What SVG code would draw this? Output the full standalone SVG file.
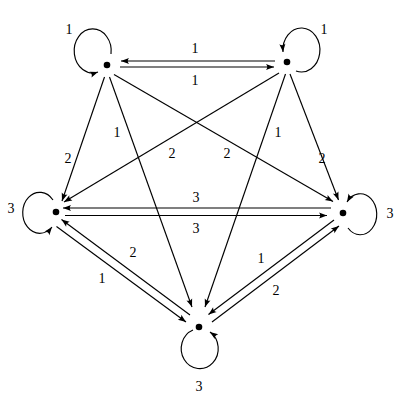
<svg xmlns="http://www.w3.org/2000/svg" width="400" height="400" viewBox="0 0 400 400">
<style>
.e{fill:none;stroke:#000;stroke-width:1.15;marker-end:url(#ah)}
.d{fill:#000}
.t{font-family:"Liberation Serif","DejaVu Serif",serif;font-size:14px;fill:#000;text-anchor:middle;dominant-baseline:central}
</style>
<defs>
<marker id="ah" viewBox="-9 -4 10 8" refX="0" refY="0" markerWidth="10" markerHeight="8" markerUnits="userSpaceOnUse" orient="auto">
<path d="M0,0 L-8,-3 Q-5.5,0 -8,3 Z" fill="#000"/>
</marker>
</defs>
<rect width="400" height="400" fill="#fff"/>
<g id="connectors">
<path class="e" d="M275,61 L121,61"/>
<path class="e" d="M120,67 L274,67"/>
<path class="e" d="M104.5,77 L62,201"/>
<path class="e" d="M109.5,77 L192,307"/>
<path class="e" d="M114,74.5 L333,201.5"/>
<path class="e" d="M279,73 L64,202"/>
<path class="e" d="M285.5,74 L205,307"/>
<path class="e" d="M290,74 L338.5,200"/>
<path class="e" d="M331,208 L63,208"/>
<path class="e" d="M65,215.5 L327,215.5"/>
<path class="e" d="M190,315 L61.5,219.5"/>
<path class="e" d="M56.5,226.5 L186,322"/>
<path class="e" d="M334,220 L208.5,314.5"/>
<path class="e" d="M212,322 L339,226"/>
<path class="e" d="M111,54 A18.5,22 0 1 0 98,72"/>
<path class="e" d="M296,71 A18.5,22 0 1 0 283,52"/>
<path class="e" d="M53,200 A17,20.5 0 1 0 52,227"/>
<path class="e" d="M348,228 A16.5,20.5 0 1 0 347,202"/>
<path class="e" d="M193,330 A18.5,20 0 1 0 210,332"/>
</g>
<g id="edge-labels">
<text class="t" x="195" y="48">1</text>
<text class="t" x="195" y="80">1</text>
<text class="t" x="68" y="158">2</text>
<text class="t" x="117" y="132">1</text>
<text class="t" x="172" y="153">2</text>
<text class="t" x="227" y="153">2</text>
<text class="t" x="278" y="132">1</text>
<text class="t" x="322" y="158">2</text>
<text class="t" x="196" y="197">3</text>
<text class="t" x="196" y="228">3</text>
<text class="t" x="133" y="252">2</text>
<text class="t" x="102" y="278">1</text>
<text class="t" x="261" y="258">1</text>
<text class="t" x="276" y="290">2</text>
</g>
<g id="nodeA"><circle class="d" cx="107" cy="65" r="3.3"/><text class="t" x="69" y="29">1</text></g>
<g id="nodeB"><circle class="d" cx="287" cy="62" r="3.3"/><text class="t" x="324" y="29">1</text></g>
<g id="nodeC"><circle class="d" cx="56" cy="212" r="3.3"/><text class="t" x="11" y="208">3</text></g>
<g id="nodeD"><circle class="d" cx="343" cy="213" r="3.3"/><text class="t" x="390" y="213">3</text></g>
<g id="nodeE"><circle class="d" cx="199" cy="327" r="3.3"/><text class="t" x="199" y="386">3</text></g>
</svg>
